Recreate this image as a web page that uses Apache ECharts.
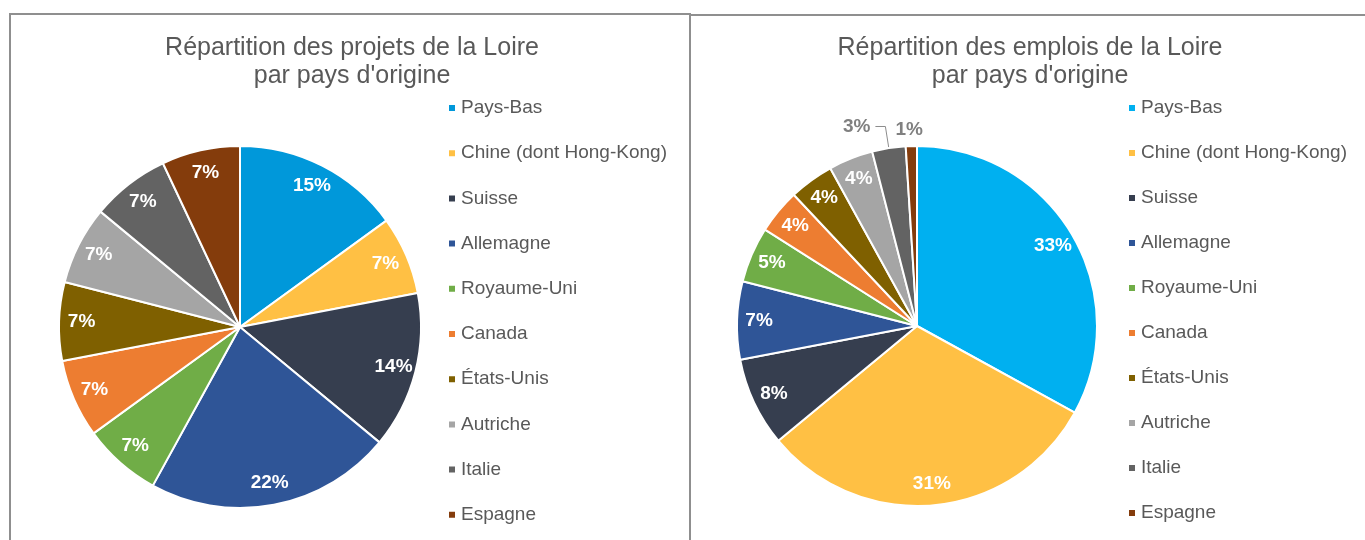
<!DOCTYPE html>
<html>
<head>
<meta charset="utf-8">
<script src="https://cdn.jsdelivr.net/npm/echarts@6/dist/echarts.min.js"></script>
<style>
  html, body { margin: 0; padding: 0; background: #fff; }
  #wrap { position: relative; width: 1365px; height: 540px; overflow: hidden; }
  .chart { position: absolute; top: 0; height: 540px; }
  .line { position: absolute; background: #8f8f8f; pointer-events: none; }
</style>
</head>
<body>
<div id="wrap">
  <div id="left" class="chart" style="left:0;width:690px"></div>
  <div id="right" class="chart" style="left:690px;width:675px"></div>
  <!-- panel frames -->
  <div class="line" style="left:9px;top:13px;width:2px;height:527px"></div>
  <div class="line" style="left:9px;top:13px;width:682px;height:2px"></div>
  <div class="line" style="left:689px;top:13px;width:2px;height:527px"></div>
  <div class="line" style="left:691px;top:14px;width:674px;height:2px"></div>
</div>
<script>
var countries = ['Pays-Bas', 'Chine (dont Hong-Kong)', 'Suisse', 'Allemagne', 'Royaume-Uni',
  'Canada', 'États-Unis', 'Autriche', 'Italie', 'Espagne'];
// parts en %
var projets = [15, 7, 14, 22, 7, 7, 7, 7, 7, 7];
var emplois = [33, 31, 8, 7, 5, 4, 4, 4, 3, 1];

var colorsProjets = ['#0098DA', '#FFC044', '#363E4F', '#2F5597', '#70AD47',
  '#ED7D31', '#7F6000', '#A5A5A5', '#636363', '#843C0C'];
var colorsEmplois = ['#00B0F0', '#FFC044', '#363E4F', '#2F5597', '#70AD47',
  '#ED7D31', '#7F6000', '#A5A5A5', '#636363', '#843C0C'];

var FONT = '"Liberation Sans", Arial, sans-serif';
var GREY = '#595959';

// outside: {index: [labelLine length, length2, showLine, dx, dy]}
function buildOption(title, values, colors, cx, cy, r, titleX, legendX, gap, outside) {
  var main = [], overlay = [];
  values.forEach(function (v, i) {
    var o = outside[i];
    main.push({
      name: countries[i], value: v,
      label: { show: !!o },
      labelLine: o ? { show: o[2], length: o[0], length2: o[1] } : { show: false }
    });
    overlay.push({ name: countries[i], value: v, label: { show: !o } });
  });
  return {
    color: colors,
    animation: false,
    textStyle: { fontFamily: FONT },
    title: {
      text: title,
      left: titleX, top: 29,
      textAlign: 'center',
      textStyle: { fontFamily: FONT, fontSize: 25, fontWeight: 'normal', color: GREY, lineHeight: 28 }
    },
    legend: {
      orient: 'vertical',
      left: legendX, top: 98,
      padding: 0,
      icon: 'rect',
      itemWidth: 8, itemHeight: 8,
      itemGap: gap,
      itemTextGap: 5,
      selectedMode: false,
      data: countries.map(function (n, i) { return { name: n, itemStyle: { color: colors[i] } }; }),
      textStyle: { fontFamily: FONT, fontSize: 19, color: GREY, lineHeight: 20 }
    },
    series: [{
      type: 'pie',
      center: [cx, cy],
      radius: r,
      startAngle: 90,
      avoidLabelOverlap: false,
      itemStyle: { borderColor: '#fff', borderWidth: 2 },
      label: {
        position: 'outside',
        formatter: '{c}%',
        fontFamily: FONT, fontSize: 19, fontWeight: 'bold', color: '#808080'
      },
      labelLine: { smooth: false, lineStyle: { color: '#8c8c8c', width: 1 } },
      labelLayout: function (p) {
        var o = outside[p.dataIndex];
        return o ? { dx: o[3], dy: o[4] } : {};
      },
      emphasis: { disabled: true },
      data: main
    }, {
      type: 'pie',
      silent: true,
      center: [cx, cy],
      radius: [Math.round(r * 0.72), r],
      startAngle: 90,
      itemStyle: { color: 'transparent' },
      label: {
        position: 'inside',
        formatter: '{c}%',
        fontFamily: FONT, fontSize: 19, fontWeight: 'bold', color: '#fff'
      },
      labelLine: { show: false },
      emphasis: { disabled: true },
      data: overlay
    }]
  };
}

var left = echarts.init(document.getElementById('left'));
left.setOption(buildOption('Répartition des projets de la Loire\npar pays d\'origine',
  projets, colorsProjets, 240, 327, 181, 347, 447, 25.2, {}));

var right = echarts.init(document.getElementById('right'));
right.setOption(buildOption('Répartition des emplois de la Loire\npar pays d\'origine',
  emplois, colorsEmplois, 227, 326, 180, 335, 437, 25,
  { 8: [22, 10, true, 0, 0], 9: [14, 0, false, 17, -2] }));
</script>
</body>
</html>
